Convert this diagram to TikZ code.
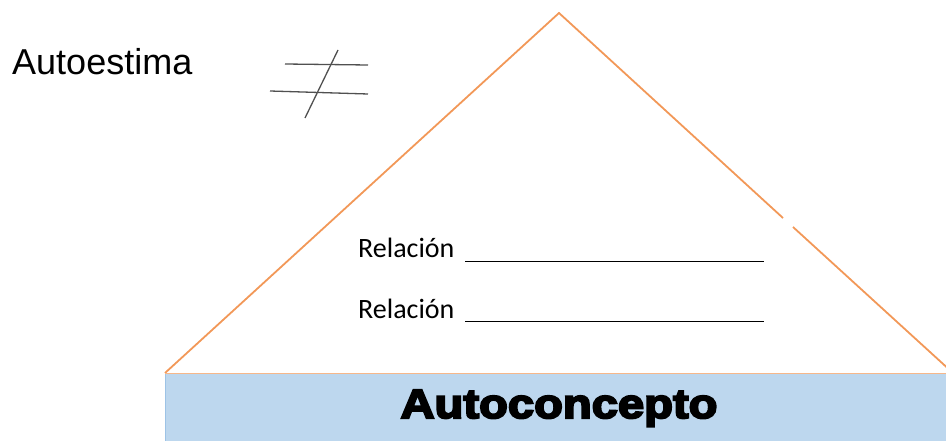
\documentclass[tikz,border=0pt]{standalone}
\usepackage{fontspec}
\setmainfont{Liberation Sans}
\newfontfamily\relfont{Carlito}
\newfontfamily\blackfont[FakeBold=5,FakeStretch=1.15]{Liberation Sans Bold}
\definecolor{roof}{RGB}{242,152,88}
\definecolor{basefill}{RGB}{189,215,238}
\definecolor{baseedge}{RGB}{157,195,230}
\definecolor{pen}{RGB}{80,80,80}

\begin{document}
\begin{tikzpicture}[
  x=1pt,y=-1pt,
  roofline/.style={draw=roof,line width=1.8pt},
  penline/.style={draw=pen,line width=1.3pt},
  rel/.style={anchor=base west,inner sep=0pt,font=\relfont\fontsize{28}{28}\selectfont}
]
  \clip (0,0) rectangle (946,441);
  % base block
  \fill[basefill] (165,373) rectangle (950,445);
  \draw[baseedge,line width=1pt] (165,445) -- (165,373);
  % roof
  \coordinate (apex) at (559,13);
  \coordinate (left) at (165,373);
  \coordinate (right) at (953,373);
  \draw[roofline,line join=miter] (left) -- (apex) -- (783,218);
  \draw[roofline] (793,227) -- (right);
  \draw[roof!70,line width=1pt] (left) -- (right);
  % labels
  \node[anchor=base west,inner sep=0pt,font=\fontsize{36}{36}\selectfont] (autoestima) at (12,75) {Autoestima};
  \node[rel] (rel1) at (358,258) {Relación\hspace{11pt}\rule[-4pt]{299pt}{1.2pt}};
  \node[rel] (rel2) at (358,318) {Relación\hspace{11pt}\rule[-4pt]{299pt}{1.2pt}};
  \node[anchor=base,inner sep=0pt,font=\blackfont\fontsize{41}{41}\selectfont] (autoconcepto) at (559,418) {Autoconcepto};
  % not equal sign
  \coordinate (ne1a) at (285,64);
  \coordinate (ne1b) at (368,65);
  \coordinate (ne2a) at (270,91);
  \coordinate (ne2b) at (368,94);
  \coordinate (nes1) at (338,50);
  \coordinate (nes2) at (305,118);
  \draw[penline] (ne1a) -- (ne1b);
  \draw[penline] (ne2a) -- (ne2b);
  \draw[penline] (nes1) -- (nes2);
\end{tikzpicture}
\end{document}
